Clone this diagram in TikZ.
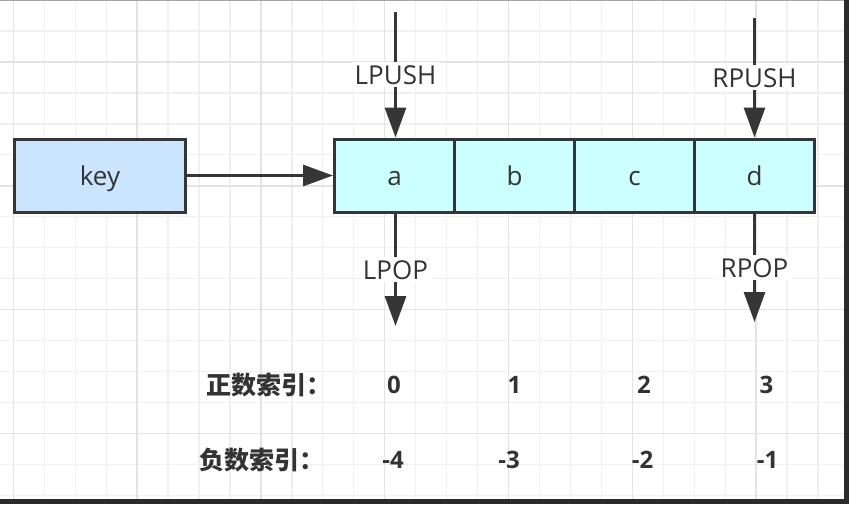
\documentclass[tikz,border=0pt]{standalone}
\usepackage{fontspec}
\setmainfont{Open Sans}
\newfontfamily\cjk{Noto Sans CJK SC}
\usetikzlibrary{arrows.meta}
\definecolor{keyfill}{HTML}{CCE5FF}
\definecolor{cellfill}{HTML}{CCFFFF}
\definecolor{stroke}{HTML}{363636}
\definecolor{txt}{HTML}{333333}
\definecolor{gminor}{HTML}{F0F0F0}
\definecolor{gmajor}{HTML}{E3E3E3}
\definecolor{frame}{HTML}{2B2B2B}
\begin{document}
\begin{tikzpicture}[x=1pt,y=-1pt,
  box/.style={draw=stroke,line width=3pt,minimum height=73pt,inner sep=0pt,text height=22pt,text depth=3pt,text=txt,font=\fontsize{26pt}{30pt}\selectfont},
  keybox/.style={box,fill=keyfill,minimum width=171pt},
  cellbox/.style={box,fill=cellfill,minimum width=120pt},
  arr/.style={draw=stroke,line width=3pt,-{Triangle[length=30pt,width=21pt]}},
  lbl/.style={fill=white,text=txt,inner sep=3pt,font=\fontsize{26pt}{30pt}\selectfont},
  idx/.style={text=txt,inner sep=0pt,font=\fontsize{24pt}{28pt}\selectfont\bfseries},
  idxh/.style={text=txt,inner sep=0pt,anchor=west,font=\cjk\bfseries\fontsize{25pt}{28pt}\selectfont},
  gridminor/.style={draw=gminor,line width=1.3pt},
  gridmajor/.style={draw=gmajor,line width=1.5pt}]
\useasboundingbox (0,0) rectangle (849,504);
\fill[white] (0,0) rectangle (849,504);
% grid
\foreach \i in {0,...,26} \draw[gridminor] ({13.3+30.95*\i},0) -- ({13.3+30.95*\i},499);
\foreach \j in {1,...,16} \draw[gridminor] (0,{0.05+30.95*\j}) -- (844,{0.05+30.95*\j});
\foreach \i in {0,4,...,24} \draw[gridmajor] ({13.3+30.95*\i},0) -- ({13.3+30.95*\i},499);
\foreach \j in {2,6,10,14} \draw[gridmajor] (0,{0.05+30.95*\j}) -- (844,{0.05+30.95*\j});
% frame artifacts
\fill[frame] (844,0) rectangle (849,504);
\fill[frame] (0,499) rectangle (849,504);
\fill[gray!70] (0,0) rectangle (844,1);
% nodes
\node[keybox] (key) at (100,175.5) {key};
\node[cellbox] (a) at (394.5,175.5) {a};
\node[cellbox] (b) at (514.5,175.5) {b};
\node[cellbox] (c) at (634.5,175.5) {c};
\node[cellbox] (d) at (754.5,175.5) {d};
\coordinate (lpushtop) at (395.5,12);
\coordinate (rpushtop) at (754.5,18);
\coordinate (lpopend) at (395.5,326);
\coordinate (rpopend) at (754.5,322);
% connectors
\draw[arr] (key.east) -- (a.west);
\draw[arr] (lpushtop) -- (a.north-|lpushtop) node[lbl,midway] (lpush) {LPUSH};
\draw[arr] (rpushtop) -- (d.north) node[lbl,midway] (rpush) {RPUSH};
\draw[arr] (a.south-|lpopend) -- (lpopend) node[lbl,midway] (lpop) {LPOP};
\draw[arr] (d.south) -- (rpopend) node[lbl,midway] (rpop) {RPOP};
% indices
\node[idxh] (pos) at (206,385) {正数索引：};
\node[idx] (p0) at (394,385) {0};
\node[idx] (p1) at (514.5,385) {1};
\node[idx] (p2) at (644,385) {2};
\node[idx] (p3) at (766.5,385) {3};
\node[idxh] (neg) at (199,460) {负数索引：};
\node[idx] (n4) at (393,460) {-4};
\node[idx] (n3) at (509,460) {-3};
\node[idx] (n2) at (642.5,460) {-2};
\node[idx] (n1) at (767.5,460) {-1};
\end{tikzpicture}
\end{document}
